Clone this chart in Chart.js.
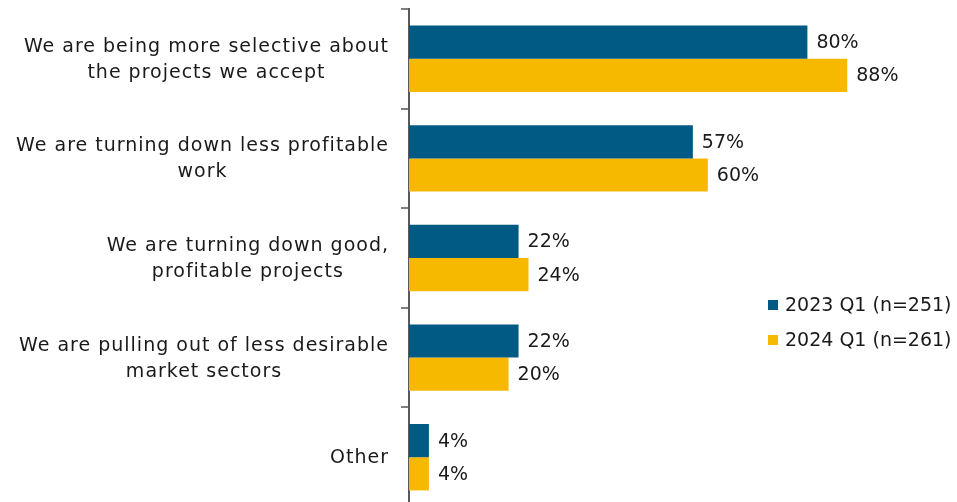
<!DOCTYPE html>
<html>
<head>
<meta charset="utf-8">
<script src="https://cdn.jsdelivr.net/npm/chart.js@4.4.1/dist/chart.umd.min.js"></script>
<style>
  html, body { margin: 0; padding: 0; background: #fff; overflow: hidden; }
  #wrap { width: 957px; height: 507px; position: relative; }
</style>
</head>
<body>
<div id="wrap"><canvas id="chart"></canvas></div>
<script>
// categories (each one split in the lines shown on the axis)
const categories = [
    ['We are being more selective about', 'the projects we accept'],
    ['We are turning down less profitable', 'work'],
    ['We are turning down good,', 'profitable projects'],
    ['We are pulling out of less desirable', 'market sectors'],
    ['Other']
];
const seriesNames = ['2023 Q1 (n=251)', '2024 Q1 (n=261)'];
const values2023 = [80, 57, 22, 22, 4];
const values2024 = [88, 60, 24, 20, 4];

const FONT = '"DejaVu Sans", sans-serif';
const TEXT = '#1a1a1a';

// labels on the left: lines centred in their block, block right-aligned to the axis
const catLabels = {
    id: 'catLabels',
    afterDraw(chart) {
        const { ctx, scales: { y } } = chart;
        ctx.save();
        ctx.font = '19px ' + FONT;
        ctx.letterSpacing = '1px';
        ctx.fillStyle = TEXT;
        ctx.textAlign = 'center';
        ctx.textBaseline = 'middle';
        const lineH = 26;
        categories.forEach((lines, i) => {
            const cy = y.getPixelForValue(i) + 1;
            const w = Math.max(...lines.map(l => ctx.measureText(l).width));
            const cx = y.right - 20 - w / 2;
            lines.forEach((l, j) => {
                ctx.fillText(l, cx, cy + (j - (lines.length - 1) / 2) * lineH);
            });
        });
        ctx.restore();
    }
};

// value labels at the end of each bar
const valueLabels = {
    id: 'valueLabels',
    afterDatasetsDraw(chart) {
        const { ctx } = chart;
        ctx.save();
        ctx.font = '19px ' + FONT;
        ctx.fillStyle = TEXT;
        ctx.textAlign = 'left';
        ctx.textBaseline = 'middle';
        chart.data.datasets.forEach((ds, di) => {
            chart.getDatasetMeta(di).data.forEach((bar, i) => {
                ctx.fillText(ds.data[i] + '%', bar.x + 9, bar.y + 1);
            });
        });
        ctx.restore();
    }
};

// legend sitting inside the plot, on the right
const sideLegend = {
    id: 'sideLegend',
    afterDraw(chart) {
        const { ctx } = chart;
        ctx.save();
        ctx.font = '19px ' + FONT;
        ctx.textBaseline = 'middle';
        ctx.textAlign = 'left';
        chart.data.datasets.forEach((ds, i) => {
            const yy = 305 + i * 35;
            ctx.fillStyle = ds.backgroundColor;
            ctx.fillRect(768, yy - 5, 10, 10);
            ctx.fillStyle = TEXT;
            ctx.fillText(ds.label, 785, yy + 1);
        });
        ctx.restore();
    }
};

new Chart(document.getElementById('chart'), {
    type: 'bar',
    data: {
        labels: categories,
        datasets: [
            { label: seriesNames[0], data: values2023, backgroundColor: '#005a84' },
            { label: seriesNames[1], data: values2024, backgroundColor: '#f7b800' }
        ]
    },
    options: {
        indexAxis: 'y',
        responsive: true,
        maintainAspectRatio: false,
        animation: false,
        layout: { padding: { top: 9, right: 50, bottom: 0, left: 0 } },
        datasets: {
            bar: { categoryPercentage: 0.667, barPercentage: 1.0, borderWidth: 0 }
        },
        plugins: {
            legend: { display: false },
            tooltip: { enabled: false }
        },
        scales: {
            x: { display: false, min: 0, max: 100 },
            y: {
                afterFit(scale) { scale.width = 409; },
                ticks: { display: false },
                grid: {
                    offset: true,
                    drawOnChartArea: false,
                    drawTicks: true,
                    tickLength: 8,
                    color: '#7f7f7f',
                    lineWidth: 2
                },
                border: { display: true, color: '#595959', width: 2 }
            }
        }
    },
    plugins: [catLabels, valueLabels, sideLegend]
});
</script>
</body>
</html>
